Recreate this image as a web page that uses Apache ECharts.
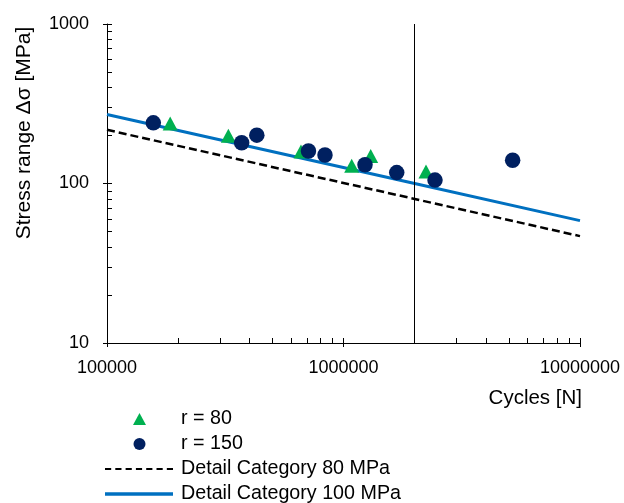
<!DOCTYPE html>
<html>
<head>
<meta charset="utf-8">
<script src="https://cdn.jsdelivr.net/npm/echarts@6/dist/echarts.min.js"></script>
<style>
html,body{margin:0;padding:0;background:#fff;}
#chart{width:624px;height:503px;}
</style>
</head>
<body>
<div id="chart"></div>
<script>
// ---- data ----
const r80Cycles  = [185000, 326000, 661000, 1083000, 1303000, 2233000];
const r80Stress  = [238, 199, 159, 129, 149, 119];
const r150Cycles = [157000, 371000, 430000, 711000, 835000, 1233000, 1679000, 2437000, 5190000];
const r150Stress = [240, 180, 201, 160, 151, 131, 117, 105, 140];
const dcCycles   = [100000, 2000000, 10000000];
const dc80Stress = [217, 80, 46.8];
const dc100Stress= [271, 100, 58.5];
const refCycles  = 2000000;
const xMajorTicks = [100000, 1000000, 10000000];
const xMinorTicks = [200000,300000,400000,500000,600000,700000,800000,900000,
                     2000000,3000000,4000000,5000000,6000000,7000000,8000000,9000000];
const yMajorTicks = [10, 100, 1000];
const yMinorTicks = [20,30,40,50,60,70,80,90,200,300,400,500,600,700,800,900];
const seriesNames = ['r = 80', 'r = 150', 'Detail Category 80 MPa', 'Detail Category 100 MPa'];
const yTitle = 'Stress range Δσ [MPa]';
const xTitle = 'Cycles [N]';

const FONT = 'Liberation Sans, Arial, sans-serif';
const zip = (a, b) => a.map((v, i) => [v, b[i]]);
const fmt = v => String(Math.round(v));

// legend line icons (solid and dashed strokes drawn as thin paths)
const solidIcon = 'path://M0,0H68V3.5H0Z';
let dashPath = '';
for (let x = 0; x < 68; x += 10) dashPath += 'M' + x + ',0H' + Math.min(x + 6, 68) + 'V2H' + x + 'Z';
const dashedIcon = 'path://' + dashPath;

const chart = echarts.init(document.getElementById('chart'), null, {renderer: 'canvas'});
const axisBase = {
  type: 'log', logBase: 10, splitLine: {show: false}
};
const legendText = {fontSize: 19.7, fontFamily: FONT, color: '#000', lineHeight: 20};
chart.setOption({
  animation: false,
  backgroundColor: '#fff',
  textStyle: {fontFamily: FONT},
  grid: {left: 107, right: 44, top: 24, bottom: 160, containLabel: false},
  xAxis: [
    Object.assign({}, axisBase, {
      min: xMajorTicks[0], max: xMajorTicks[2],
      axisLine: {show: true, lineStyle: {color: '#000', width: 1}},
      axisTick: {show: true, customValues: xMajorTicks, inside: false, length: 4, lineStyle: {color: '#000'}},
      axisLabel: {show: true, customValues: xMajorTicks, formatter: fmt, margin: 16,
                  color: '#000', fontSize: 18, fontFamily: FONT}
    }),
    Object.assign({}, axisBase, {
      min: xMajorTicks[0], max: xMajorTicks[2], position: 'bottom',
      axisLine: {show: false},
      axisTick: {show: true, customValues: xMajorTicks.concat(xMinorTicks), inside: true, length: 5, lineStyle: {color: '#000'}},
      axisLabel: {show: false}
    })
  ],
  yAxis: [
    Object.assign({}, axisBase, {
      min: yMajorTicks[0], max: yMajorTicks[2],
      axisLine: {show: true, lineStyle: {color: '#000', width: 1}},
      axisTick: {show: true, customValues: yMajorTicks, inside: false, length: 4, lineStyle: {color: '#000'}},
      axisLabel: {show: true, customValues: yMajorTicks, formatter: fmt, margin: 18,
                  color: '#000', fontSize: 18, fontFamily: FONT}
    }),
    Object.assign({}, axisBase, {
      min: yMajorTicks[0], max: yMajorTicks[2], position: 'left',
      axisLine: {show: false},
      axisTick: {show: true, customValues: yMajorTicks.concat(yMinorTicks), inside: true, length: 5, lineStyle: {color: '#000'}},
      axisLabel: {show: false}
    })
  ],
  legend: [
    {
      orient: 'vertical', left: 128, top: 404, height: 60,
      itemWidth: 13, itemHeight: 12, itemGap: 5,
      data: [{name: seriesNames[0], icon: 'triangle'}, {name: seriesNames[1], icon: 'circle'}],
      textStyle: Object.assign({padding: [0, 0, 0, 30]}, legendText)
    },
    {
      orient: 'vertical', left: 100, top: 454, height: 60,
      itemWidth: 68, itemHeight: 12, itemGap: 5,
      data: [{name: seriesNames[2], icon: dashedIcon}, {name: seriesNames[3], icon: solidIcon}],
      textStyle: Object.assign({padding: [0, 0, 0, 3]}, legendText)
    }
  ],
  graphic: [
    {type: 'text', x: 24, y: 133, rotation: Math.PI / 2,
     style: {text: yTitle, fontSize: 21, fontFamily: FONT, fill: '#000', align: 'center', verticalAlign: 'middle'}},
    {type: 'text', x: 582, y: 398,
     style: {text: xTitle, fontSize: 20.5, fontFamily: FONT, fill: '#000', align: 'right', verticalAlign: 'middle'}}
  ],
  series: [
    {
      name: seriesNames[2], type: 'line', data: zip(dcCycles, dc80Stress),
      symbol: 'none', z: 2, color: '#000',
      lineStyle: {color: '#000', width: 2.5, type: [8, 4]},
      markLine: {
        silent: true, symbol: 'none', label: {show: false},
        lineStyle: {color: '#000', width: 1, type: 'solid'},
        data: [{xAxis: refCycles}]
      }
    },
    {
      name: seriesNames[3], type: 'line', data: zip(dcCycles, dc100Stress),
      symbol: 'none', z: 3, color: '#0070C0',
      lineStyle: {color: '#0070C0', width: 3, type: 'solid'}
    },
    {
      name: seriesNames[0], type: 'scatter', data: zip(r80Cycles, r80Stress),
      symbol: 'triangle', symbolSize: [15, 14], z: 4,
      itemStyle: {color: '#00B050', opacity: 1}
    },
    {
      name: seriesNames[1], type: 'scatter', data: zip(r150Cycles, r150Stress),
      symbol: 'circle', symbolSize: 15.5, z: 5,
      itemStyle: {color: '#002060', opacity: 1}
    }
  ]
});
</script>
</body>
</html>
